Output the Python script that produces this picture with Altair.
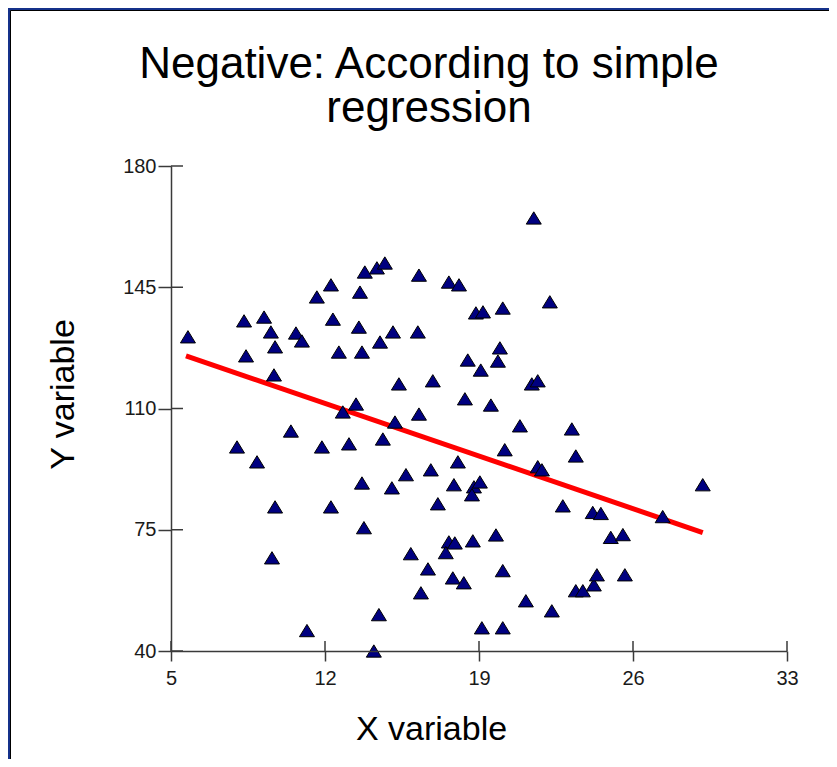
import altair as alt
import pandas as pd

# Scatter data
x_vals = [5.77, 8.32, 8.41, 9.23, 9.54, 9.73, 9.68, 8.00, 8.91, 9.73,
          9.59, 10.45, 10.68, 10.95, 11.18, 11.63, 12.27, 11.86, 12.27, 12.36,
          12.63, 12.81, 13.09, 13.41, 13.54, 13.59, 13.68, 13.68, 13.77, 13.81,
          14.36, 14.72, 14.22, 14.45, 14.50, 14.63, 15.09, 15.18, 15.04, 15.36,
          15.68, 16.22, 16.27, 16.27, 15.90, 16.36, 16.68, 16.81, 16.90, 17.13,
          17.63, 18.09, 17.86, 17.63, 17.90, 17.49, 17.81, 18.31, 18.04, 18.36,
          18.49, 18.72, 18.77, 19.04, 18.68, 18.86, 19.18, 19.08, 19.13, 19.54,
          19.86, 19.95, 20.08, 19.77, 20.08, 20.08, 20.17, 20.86, 21.13, 21.49,
          21.40, 21.67, 21.67, 21.86, 22.22, 22.31, 22.81, 23.22, 23.40, 23.40,
          23.72, 24.22, 24.36, 24.17, 24.54, 24.99, 25.54, 25.63, 27.35, 29.17]
y_vals = [130.7, 135.3, 125.2, 136.4, 132.1, 127.8, 119.7, 98.9, 94.6, 81.6,
          66.9, 103.5, 131.8, 129.5, 45.9, 142.2, 145.7, 98.9, 81.6, 135.8,
          126.3, 109.0, 99.8, 111.3, 133.5, 143.6, 126.3, 88.5, 75.6, 149.4,
          150.6, 152.0, 40.0, 50.5, 129.2, 101.2, 132.1, 106.1, 87.1, 117.1,
          90.9, 132.1, 148.5, 108.4, 68.1, 56.8, 63.7, 92.3, 118.0, 82.5,
          146.5, 145.7, 88.0, 71.5, 71.2, 68.4, 61.1, 59.7, 94.6, 112.8,
          124.0, 71.8, 87.4, 88.8, 85.1, 137.6, 137.9, 121.1, 46.7, 111.0,
          123.7, 127.5, 139.0, 73.5, 63.2, 46.7, 98.1, 105.0, 54.5, 165.0,
          117.1, 118.0, 93.2, 92.3, 140.8, 51.6, 81.9, 104.1, 96.3, 57.4,
          57.4, 59.1, 62.0, 80.0, 79.7, 72.8, 73.6, 62.0, 78.8, 88.0]

# Regression line end points
reg_x = [5.68, 29.17]
reg_y = [125.2, 74.2]

# Axis ticks
x_ticks = [5, 12, 19, 26, 33]
y_ticks = [40, 75, 110, 145, 180]

title_line1 = "Negative: According to simple"
title_line2 = "regression"

FONT = "Liberation Sans"
AXIS_COLOR = "#3a3a3a"

pts = pd.DataFrame({"x": x_vals, "y": y_vals})
reg = pd.DataFrame({"x": reg_x, "y": reg_y})
xt = pd.DataFrame({"t": x_ticks})
yt = pd.DataFrame({"t": y_ticks})
one = pd.DataFrame({"a": [0]})

xscale = alt.Scale(domain=[5, 33], nice=False, zero=False)
yscale = alt.Scale(domain=[40, 180], nice=False, zero=False)

xaxis = alt.Axis(values=x_ticks, title="X variable", grid=False, labelFlush=False,
                 domainColor=AXIS_COLOR, domainWidth=1.5, tickColor=AXIS_COLOR,
                 tickWidth=1.5, tickSize=10, labelPadding=7, labelFont=FONT,
                 labelFontSize=20, labelColor="#1a1a1a", titleFont=FONT,
                 titleFontSize=34, titleFontWeight="normal", titleColor="#000",
                 titleX=260, titleY=88, titleBaseline="alphabetic",
                 titleAnchor="middle", zindex=1)
yaxis = alt.Axis(values=y_ticks, title="Y variable", grid=False, labelFlush=False,
                 domainColor=AXIS_COLOR, domainWidth=1.5, tickColor=AXIS_COLOR,
                 tickWidth=1.5, tickSize=13, labelPadding=2, labelFont=FONT,
                 labelFontSize=20, labelColor="#1a1a1a", titleFont=FONT,
                 titleFontSize=34, titleFontWeight="normal", titleColor="#000",
                 titleX=-98, titleY=228, titleBaseline="alphabetic",
                 titleAnchor="middle", titleAngle=270, zindex=1)

panel = alt.Chart(one).mark_rect(
    fill="white", stroke="#000", strokeWidth=1
).encode(x=alt.value(-160.5), x2=alt.value(900), y=alt.value(-155.5), y2=alt.value(900))

t1 = alt.Chart(one).mark_text(
    text=title_line1, font=FONT, fontSize=44, color="#000",
    align="center", baseline="alphabetic"
).encode(x=alt.value(258), y=alt.value(-88))
t2 = alt.Chart(one).mark_text(
    text=title_line2, font=FONT, fontSize=44, color="#000",
    align="center", baseline="alphabetic"
).encode(x=alt.value(258), y=alt.value(-44))

xin = alt.Chart(xt).mark_rule(color=AXIS_COLOR, strokeWidth=1.5, y2Offset=-10).encode(
    x=alt.X("t:Q", scale=xscale, axis=xaxis), y=alt.datum(40, scale=yscale), y2=alt.datum(40)
)
yin = alt.Chart(yt).mark_rule(color=AXIS_COLOR, strokeWidth=1.5, x2Offset=12).encode(
    y=alt.Y("t:Q", scale=yscale, axis=yaxis), x=alt.datum(5), x2=alt.datum(5)
)

line = alt.Chart(reg).mark_line(color="#ff0000", strokeWidth=5).encode(
    x=alt.X("x:Q", scale=xscale), y=alt.Y("y:Q", scale=yscale)
)

points = alt.Chart(pts).mark_point(
    shape="M-1,0.82L0,-0.82L1,0.82Z", size=225, filled=True, fill="#000080",
    stroke="#000000", strokeWidth=1, opacity=1
).encode(x=alt.X("x:Q", scale=xscale), y=alt.Y("y:Q", scale=yscale))

chart = alt.layer(panel, t1, t2, xin, yin, line, points).properties(
    width=616, height=485,
    background="#15318A",
    padding={"left": 163, "top": 158, "right": 42, "bottom": 108},
    autosize=alt.AutoSizeParams(type="none"),
).configure_view(stroke=None)

chart.save("out.html", embed_options={"renderer": "svg", "actions": False})
